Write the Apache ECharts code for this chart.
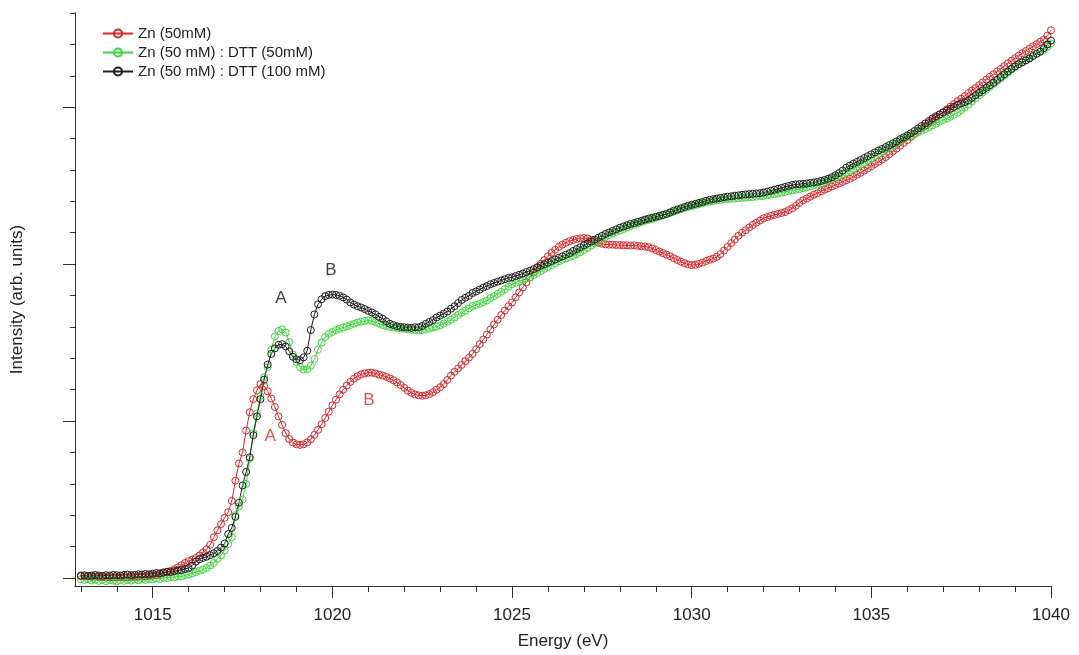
<!DOCTYPE html>
<html>
<head>
<meta charset="utf-8">
<script src="https://cdn.jsdelivr.net/npm/echarts@6/dist/echarts.min.js"></script>
<style>
  html, body { margin: 0; padding: 0; background: #ffffff; }
  #chart { width: 1079px; height: 655px; }
</style>
</head>
<body>
<div id="chart"></div>
<script>
// Zn L-edge absorption spectra, sampled every 0.1 eV from 1013.0 to 1040.0 eV
const energyStart = 1013.0;
const energyStep = 0.1;

const seriesNames = ['Zn (50mM)', 'Zn (50 mM) : DTT (50mM)', 'Zn (50 mM) : DTT (100 mM)'];

const zn50 = [
  0.006, 0.005, 0.006, 0.004, 0.005, 0.003, 0.004, 0.002, 0.003, 0.002,
  0.003, 0.002, 0.003, 0.002, 0.004, 0.003, 0.005, 0.004, 0.006, 0.007,
  0.008, 0.010, 0.013, 0.016, 0.019, 0.023, 0.028, 0.034, 0.041, 0.048,
  0.054, 0.059, 0.064, 0.072, 0.082, 0.092, 0.106, 0.130, 0.152, 0.172,
  0.192, 0.210, 0.246, 0.310, 0.365, 0.400, 0.470, 0.528, 0.570, 0.598,
  0.618, 0.612, 0.595, 0.572, 0.545, 0.515, 0.488, 0.462, 0.443, 0.432,
  0.426, 0.424, 0.426, 0.432, 0.442, 0.456, 0.472, 0.490, 0.510, 0.530,
  0.550, 0.568, 0.585, 0.600, 0.613, 0.625, 0.635, 0.643, 0.649, 0.652,
  0.654, 0.654, 0.652, 0.648, 0.645, 0.641, 0.636, 0.630, 0.623, 0.615,
  0.606, 0.597, 0.590, 0.585, 0.582, 0.581, 0.582, 0.586, 0.592, 0.600,
  0.608, 0.618, 0.631, 0.645, 0.657, 0.668, 0.679, 0.691, 0.702, 0.714,
  0.729, 0.745, 0.760, 0.776, 0.792, 0.808, 0.823, 0.838, 0.852, 0.866,
  0.878, 0.894, 0.910, 0.926, 0.942, 0.958, 0.973, 0.988, 1.001, 1.013,
  1.025, 1.036, 1.046, 1.055, 1.062, 1.068, 1.073, 1.077, 1.080, 1.082,
  1.083, 1.082, 1.078, 1.073, 1.068, 1.065, 1.063, 1.062, 1.062, 1.061,
  1.061, 1.060, 1.060, 1.059, 1.060, 1.058, 1.057, 1.056, 1.054, 1.050,
  1.045, 1.040, 1.035, 1.030, 1.025, 1.019, 1.013, 1.008, 1.003, 0.999,
  0.997, 0.998, 1.001, 1.005, 1.010, 1.014, 1.018, 1.023, 1.032, 1.043,
  1.055, 1.067, 1.078, 1.090, 1.100, 1.108, 1.117, 1.125, 1.132, 1.139,
  1.146, 1.150, 1.154, 1.157, 1.160, 1.163, 1.166, 1.172, 1.178, 1.186,
  1.195, 1.203, 1.209, 1.215, 1.221, 1.226, 1.232, 1.237, 1.242, 1.247,
  1.252, 1.257, 1.262, 1.267, 1.272, 1.278, 1.285, 1.291, 1.298, 1.305,
  1.312, 1.319, 1.326, 1.333, 1.341, 1.350, 1.359, 1.368, 1.377, 1.386,
  1.395, 1.405, 1.415, 1.425, 1.433, 1.441, 1.450, 1.459, 1.467, 1.476,
  1.484, 1.493, 1.502, 1.510, 1.519, 1.527, 1.536, 1.545, 1.553, 1.561,
  1.570, 1.579, 1.588, 1.597, 1.605, 1.614, 1.622, 1.631, 1.640, 1.648,
  1.656, 1.664, 1.672, 1.679, 1.686, 1.694, 1.701, 1.708, 1.715, 1.728,
  1.745
];

const znDtt50 = [
  -0.004, -0.006, -0.003, -0.008, -0.005, -0.009, -0.006, -0.010, -0.007, -0.008,
  -0.011, -0.007, -0.009, -0.006, -0.008, -0.005, -0.007, -0.004, -0.006, -0.003,
  -0.004, -0.001, -0.003, 0.001, 0.000, 0.003, 0.002, 0.006, 0.005, 0.009,
  0.012, 0.015, 0.019, 0.023, 0.027, 0.032, 0.040, 0.048, 0.061, 0.072,
  0.088, 0.108, 0.130, 0.200, 0.228, 0.250, 0.300, 0.380, 0.462, 0.524,
  0.580, 0.640, 0.672, 0.728, 0.770, 0.787, 0.792, 0.782, 0.752, 0.712,
  0.688, 0.672, 0.664, 0.665, 0.676, 0.698, 0.728, 0.750, 0.768, 0.778,
  0.784, 0.790, 0.794, 0.798, 0.802, 0.806, 0.810, 0.814, 0.817, 0.819,
  0.821, 0.819, 0.815, 0.810, 0.806, 0.803, 0.800, 0.798, 0.797, 0.795,
  0.794, 0.792, 0.791, 0.790, 0.789, 0.790, 0.792, 0.795, 0.798, 0.801,
  0.805, 0.811, 0.817, 0.823, 0.830, 0.838, 0.845, 0.852, 0.859, 0.866,
  0.870, 0.874, 0.879, 0.884, 0.892, 0.898, 0.905, 0.912, 0.920, 0.928,
  0.936, 0.941, 0.946, 0.950, 0.954, 0.958, 0.965, 0.972, 0.978, 0.985,
  0.991, 0.997, 1.003, 1.009, 1.014, 1.018, 1.022, 1.026, 1.032, 1.038,
  1.045, 1.052, 1.059, 1.066, 1.073, 1.080, 1.086, 1.092, 1.098, 1.103,
  1.107, 1.112, 1.117, 1.122, 1.126, 1.130, 1.134, 1.138, 1.141, 1.144,
  1.148, 1.151, 1.155, 1.159, 1.163, 1.167, 1.171, 1.175, 1.179, 1.182,
  1.185, 1.188, 1.191, 1.194, 1.197, 1.199, 1.201, 1.203, 1.204, 1.206,
  1.207, 1.208, 1.209, 1.210, 1.211, 1.212, 1.213, 1.214, 1.215, 1.216,
  1.217, 1.219, 1.221, 1.223, 1.225, 1.228, 1.230, 1.233, 1.235, 1.237,
  1.239, 1.242, 1.245, 1.248, 1.251, 1.254, 1.258, 1.262, 1.267, 1.272,
  1.277, 1.282, 1.287, 1.292, 1.297, 1.303, 1.310, 1.317, 1.323, 1.330,
  1.337, 1.344, 1.351, 1.358, 1.365, 1.371, 1.378, 1.385, 1.392, 1.399,
  1.405, 1.410, 1.415, 1.420, 1.425, 1.430, 1.436, 1.442, 1.448, 1.454,
  1.459, 1.464, 1.470, 1.476, 1.483, 1.491, 1.499, 1.508, 1.518, 1.528,
  1.538, 1.547, 1.556, 1.565, 1.574, 1.583, 1.592, 1.601, 1.610, 1.620,
  1.628, 1.636, 1.643, 1.650, 1.657, 1.664, 1.670, 1.676, 1.683, 1.693,
  1.703
];

const znDtt100 = [
  0.008, 0.009, 0.007, 0.008, 0.010, 0.008, 0.007, 0.009, 0.008, 0.010,
  0.009, 0.008, 0.010, 0.011, 0.009, 0.010, 0.012, 0.011, 0.013, 0.012,
  0.014, 0.016, 0.015, 0.018, 0.020, 0.019, 0.022, 0.024, 0.026, 0.029,
  0.032, 0.040, 0.052, 0.060, 0.064, 0.068, 0.073, 0.079, 0.086, 0.097,
  0.110, 0.140, 0.160, 0.195, 0.240, 0.295, 0.338, 0.385, 0.455, 0.515,
  0.570, 0.632, 0.680, 0.714, 0.732, 0.743, 0.745, 0.738, 0.722, 0.705,
  0.697, 0.694, 0.703, 0.724, 0.790, 0.840, 0.872, 0.888, 0.898, 0.902,
  0.903, 0.902, 0.899, 0.894, 0.887, 0.878, 0.871, 0.866, 0.862, 0.857,
  0.851, 0.846, 0.840, 0.832, 0.826, 0.818, 0.810, 0.806, 0.802, 0.800,
  0.799, 0.798, 0.797, 0.799, 0.799, 0.803, 0.810, 0.816, 0.822, 0.830,
  0.836, 0.842, 0.849, 0.858, 0.866, 0.876, 0.886, 0.893, 0.899, 0.908,
  0.913, 0.919, 0.925, 0.930, 0.936, 0.940, 0.944, 0.948, 0.952, 0.956,
  0.958, 0.962, 0.966, 0.970, 0.975, 0.979, 0.984, 0.990, 0.995, 1.000,
  1.005, 1.010, 1.015, 1.020, 1.025, 1.030, 1.035, 1.042, 1.048, 1.054,
  1.060, 1.066, 1.072, 1.078, 1.084, 1.090, 1.096, 1.101, 1.106, 1.111,
  1.116, 1.120, 1.124, 1.128, 1.131, 1.135, 1.138, 1.142, 1.145, 1.148,
  1.151, 1.154, 1.157, 1.160, 1.165, 1.170, 1.174, 1.178, 1.182, 1.186,
  1.189, 1.192, 1.195, 1.198, 1.202, 1.205, 1.207, 1.209, 1.211, 1.213,
  1.215, 1.216, 1.218, 1.219, 1.221, 1.222, 1.223, 1.224, 1.225, 1.226,
  1.228, 1.231, 1.234, 1.237, 1.240, 1.243, 1.246, 1.249, 1.252, 1.254,
  1.255, 1.256, 1.257, 1.259, 1.260, 1.262, 1.265, 1.268, 1.272, 1.277,
  1.283, 1.290, 1.298, 1.307, 1.314, 1.320, 1.326, 1.332, 1.338, 1.344,
  1.350, 1.356, 1.362, 1.367, 1.373, 1.379, 1.385, 1.391, 1.398, 1.404,
  1.410, 1.417, 1.424, 1.432, 1.440, 1.448, 1.456, 1.464, 1.471, 1.477,
  1.483, 1.489, 1.495, 1.501, 1.507, 1.512, 1.516, 1.522, 1.530, 1.538,
  1.546, 1.554, 1.562, 1.570, 1.578, 1.587, 1.596, 1.605, 1.614, 1.622,
  1.630, 1.637, 1.643, 1.649, 1.655, 1.663, 1.670, 1.677, 1.688, 1.700,
  1.712
];

// Axis ticks and labels
const xMajorTicks = [1015, 1020, 1025, 1030, 1035, 1040];
const xMinorTicks = [1013, 1014, 1015, 1016, 1017, 1018, 1019, 1020, 1021, 1022, 1023, 1024, 1025, 1026,
                     1027, 1028, 1029, 1030, 1031, 1032, 1033, 1034, 1035, 1036, 1037, 1038, 1039, 1040];
const yMajorTicks = [0, 0.5, 1.0, 1.5];
const yMinorTicks = [0, 0.1, 0.2, 0.3, 0.4, 0.5, 0.6, 0.7, 0.8, 0.9, 1.0, 1.1, 1.2, 1.3, 1.4, 1.5, 1.6, 1.7, 1.8];

// Peak annotations [energy, intensity, text]
const dttPeakLabels = [[1018.57, 0.890, 'A'], [1019.96, 0.979, 'B']];
const znPeakLabels = [[1018.27, 0.452, 'A'], [1021.02, 0.565, 'B']];

const energies = zn50.map((_, i) => +(energyStart + i * energyStep).toFixed(1));

const FONT = '"Liberation Sans", Arial, sans-serif';
const AXIS_COLOR = '#333333';
const X_MIN = 1012.837, X_MAX = 1040;
const Y_MIN = -0.0253, Y_MAX = 1.8;

function curve(name, values, color) {
  return {
    name: name,
    type: 'line',
    data: values.map((v, i) => [energies[i], v]),
    symbol: 'circle',
    symbolSize: 7,
    showAllSymbol: true,
    itemStyle: { color: 'rgba(255,255,255,0)', borderColor: color, borderWidth: 1 },
    lineStyle: { color: color, width: 1 },
    emphasis: { disabled: true },
    silent: true,
    z: 2
  };
}

function peakText(points, color) {
  return {
    type: 'scatter',
    data: points,
    symbolSize: 1,
    itemStyle: { color: 'rgba(0,0,0,0)' },
    label: {
      show: true, position: 'inside',
      formatter: p => p.value[2],
      fontFamily: FONT, fontSize: 17, color: color
    },
    silent: true,
    z: 5
  };
}

function xAxisBase(extra) {
  return Object.assign({
    type: 'value', min: X_MIN, max: X_MAX, position: 'bottom',
    axisLine: { show: true, onZero: false, lineStyle: { color: AXIS_COLOR, width: 1 } },
    splitLine: { show: false }
  }, extra);
}

function yAxisBase(extra) {
  return Object.assign({
    type: 'value', min: Y_MIN, max: Y_MAX, position: 'left',
    axisLine: { show: true, onZero: false, lineStyle: { color: AXIS_COLOR, width: 1 } },
    splitLine: { show: false }
  }, extra);
}

const chart = echarts.init(document.getElementById('chart'), null, { renderer: 'canvas' });

chart.setOption({
  animation: false,
  backgroundColor: '#ffffff',
  textStyle: { fontFamily: FONT },
  grid: { left: 75, right: 28, top: 13, bottom: 64, containLabel: false },
  legend: {
    data: seriesNames,
    orient: 'vertical',
    left: 97,
    top: 21,
    itemWidth: 30,
    itemHeight: 10,
    itemGap: 4,
    textStyle: { fontFamily: FONT, fontSize: 15, color: '#222222' },
    selectedMode: false
  },
  xAxis: [
    xAxisBase({
      name: 'Energy (eV)', nameLocation: 'middle', nameGap: 47,
      nameTextStyle: { fontFamily: FONT, fontSize: 17, color: '#222222' },
      axisTick: { show: true, customValues: xMinorTicks, length: 6, lineStyle: { color: AXIS_COLOR } },
      axisLabel: {
        show: true, customValues: xMajorTicks, margin: 21,
        formatter: v => String(Math.round(v)),
        fontFamily: FONT, fontSize: 17, color: '#222222'
      }
    }),
    xAxisBase({
      axisTick: { show: true, customValues: xMajorTicks, length: 12, lineStyle: { color: AXIS_COLOR } },
      axisLabel: { show: false }
    })
  ],
  yAxis: [
    yAxisBase({
      name: 'Intensity (arb. units)', nameLocation: 'middle', nameGap: 49,
      nameTextStyle: { fontFamily: FONT, fontSize: 17, color: '#222222' },
      axisTick: { show: true, customValues: yMinorTicks, length: 5, lineStyle: { color: AXIS_COLOR } },
      axisLabel: { show: false }
    }),
    yAxisBase({
      axisTick: { show: true, customValues: yMajorTicks, length: 12, lineStyle: { color: AXIS_COLOR } },
      axisLabel: { show: false }
    })
  ],
  series: [
    curve(seriesNames[0], zn50, '#d8262c'),
    curve(seriesNames[1], znDtt50, '#3fd43f'),
    curve(seriesNames[2], znDtt100, '#1e1e1e'),
    peakText(dttPeakLabels, '#111111'),
    peakText(znPeakLabels, '#e0262c')
  ]
});
</script>
</body>
</html>
